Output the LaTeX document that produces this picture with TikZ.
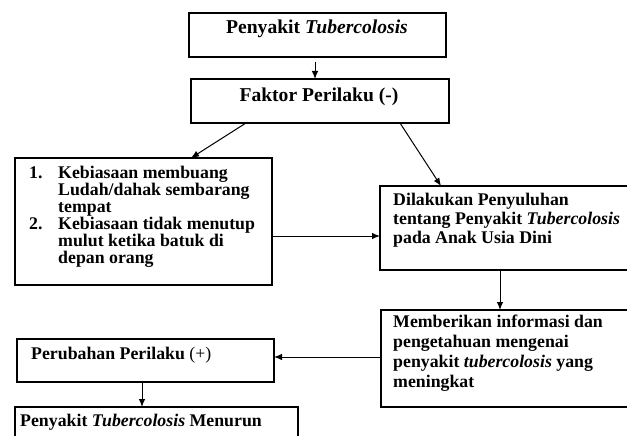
\documentclass[tikz,border=0pt]{standalone}
\usepackage{fontspec}
\setmainfont{Liberation Serif}
\usetikzlibrary{arrows.meta}
\begin{document}
\begin{tikzpicture}[x=1pt,y=-1pt,
  box/.style={draw, line width=1.1pt, inner sep=0pt, outer sep=0pt, anchor=north west},
  txt/.style={inner sep=0pt, anchor=base west, font=\fontsize{17.8}{20}\selectfont\bfseries},
  ctxt/.style={inner sep=0pt, anchor=base, font=\fontsize{19.6}{22}\selectfont\bfseries},
  arr/.style={line width=1pt, -{Latex[length=8pt,width=6.5pt]}}]
\useasboundingbox (0,0) rectangle (627,436);
\clip (0,0) rectangle (627,436);
% boxes
\node[box, minimum width=257pt, minimum height=44pt] (b1) at (189,13) {};
\node[box, minimum width=258pt, minimum height=44pt] (b2) at (191,79) {};
\node[box, minimum width=257pt, minimum height=127pt] (b3) at (15,158) {};
\node[box, minimum width=260pt, minimum height=84pt] (b4) at (380,186) {};
\node[box, minimum width=260pt, minimum height=97pt] (b5) at (381,310) {};
\node[box, minimum width=257pt, minimum height=43pt] (b6) at (17,339) {};
\node[box, minimum width=283pt, minimum height=45pt] (b7) at (15,407) {};
% texts
\node[ctxt] (t1) at (317,34) {Penyakit \textit{Tubercolosis}};
\node[ctxt] (t2) at (319,102) {Faktor Perilaku (-)};
\node[txt] (n1) at (29,178) {1.};
\node[txt] (l1) at (58,178) {Kebiasaan membuang};
\node[txt] (l2) at (58,195) {Ludah/dahak sembarang};
\node[txt] (l3) at (58,212) {tempat};
\node[txt] (n2) at (29,229) {2.};
\node[txt] (l4) at (58,229) {Kebiasaan tidak menutup};
\node[txt] (l5) at (58,246) {mulut ketika batuk di};
\node[txt] (l6) at (58,263) {depan orang};
\node[txt] (p1) at (393,205) {Dilakukan Penyuluhan};
\node[txt] (p2) at (393,224) {tentang Penyakit \textit{Tubercolosis}};
\node[txt] (p3) at (393,243) {pada Anak Usia Dini};
\node[txt] (m1) at (393,327) {Memberikan informasi dan};
\node[txt] (m2) at (393,347) {pengetahuan mengenai};
\node[txt] (m3) at (393,367) {penyakit \textit{tubercolosis} yang};
\node[txt] (m4) at (393,387) {meningkat};
\node[txt] (r1) at (31,359) {Perubahan Perilaku {\mdseries (+)}};
\node[txt] (r2) at (20,426) {Penyakit \textit{Tubercolosis} Menurun};
% connectors
\coordinate (s1) at (315,62);
\draw[arr] (s1) -- (s1 |- b2.north);
\draw[arr] ([xshift=55pt]b2.south west) -- ([xshift=176pt]b3.north west);
\draw[arr] ([xshift=209pt]b2.south west) -- ([xshift=61pt]b4.north west);
\draw[arr] ([yshift=-78pt]b3.north east) coordinate (h1) -- (h1 -| b4.west);
\draw[arr] ([xshift=120pt]b4.south west) coordinate (v1) -- (v1 |- b5.north);
\draw[arr] ([yshift=-47pt]b5.north west) coordinate (h2) -- (h2 -| b6.east);
\draw[arr] ([xshift=125pt]b6.south west) coordinate (v2) -- (v2 |- b7.north);
\end{tikzpicture}
\end{document}
